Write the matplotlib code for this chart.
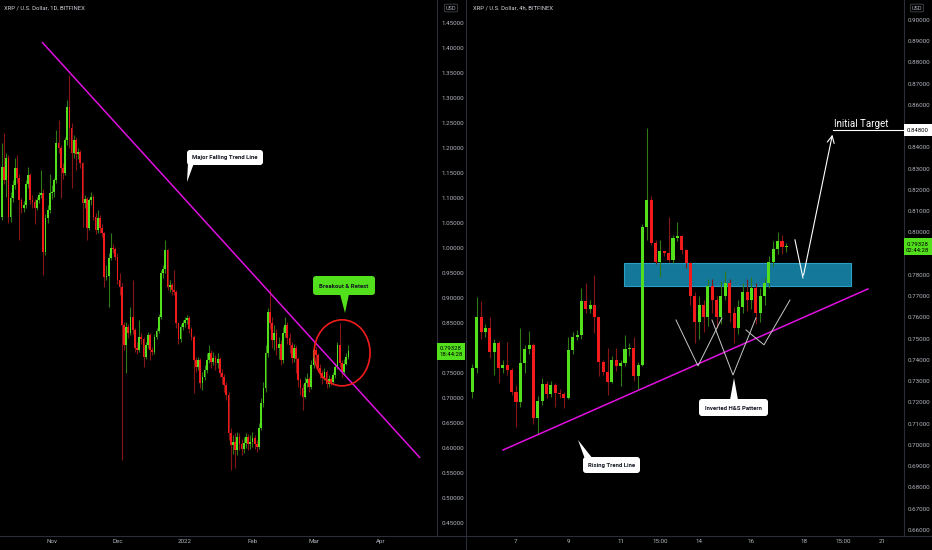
import numpy as np
import matplotlib
matplotlib.use("Agg")
from matplotlib import pyplot as plt
from matplotlib.patches import Ellipse, Rectangle, Polygon, FancyBboxPatch
from matplotlib.transforms import Affine2D

W, H = 932, 550

# ---- left chart: XRP / U.S. Dollar, 1D  (x = days from 2021-11-01)
day_first = -23
day_first_open = 1.062
day_close = [
    1.162, 1.135, 1.180, 1.062, 1.100, 1.125, 1.160, 1.140, 1.095, 1.080,
    1.086, 1.128, 1.146, 1.095, 1.092, 1.080, 1.095, 1.105, 1.110, 0.992,
    1.060, 1.075, 1.110, 1.112, 1.135, 1.209, 1.200, 1.160, 1.150, 1.215,
    1.282, 1.240, 1.190, 1.215, 1.188, 1.192, 1.170, 1.089, 1.098, 1.040,
    1.095, 1.102, 1.062, 1.035, 1.060, 1.040, 1.030, 0.942, 0.944, 0.980,
    1.000, 0.998, 0.982, 0.935, 0.922, 0.846, 0.806, 0.842, 0.829, 0.862,
    0.835, 0.800, 0.796, 0.822, 0.818, 0.782, 0.805, 0.826, 0.795, 0.792,
    0.822, 0.834, 0.862, 0.949, 0.958, 0.996, 0.922, 0.925, 0.915, 0.912,
    0.849, 0.818, 0.842, 0.850, 0.856, 0.860, 0.838, 0.822, 0.776, 0.762,
    0.776, 0.729, 0.742, 0.755, 0.775, 0.790, 0.772, 0.780, 0.770, 0.778,
    0.750, 0.742, 0.725, 0.705, 0.630, 0.605, 0.612, 0.595, 0.622, 0.608,
    0.598, 0.610, 0.622, 0.608, 0.612, 0.620, 0.608, 0.602, 0.640, 0.690,
    0.720, 0.790, 0.872, 0.850, 0.815, 0.830, 0.800, 0.808, 0.775, 0.830,
    0.845, 0.820, 0.805, 0.780, 0.800, 0.778, 0.735, 0.720, 0.702, 0.730,
    0.738, 0.722, 0.765, 0.795, 0.785, 0.760, 0.750, 0.740, 0.752, 0.728,
    0.738, 0.732, 0.745, 0.762, 0.805, 0.770, 0.752, 0.768, 0.782, 0.793,
]
day_high = [
    1.209, 1.229, 1.190, 1.185, 1.112, 1.135, 1.180, 1.185, 1.148, 1.100,
    1.094, 1.135, 1.162, 1.150, 1.105, 1.098, 1.102, 1.112, 1.155, 1.118,
    1.068, 1.085, 1.148, 1.125, 1.140, 1.235, 1.255, 1.205, 1.170, 1.222,
    1.295, 1.345, 1.250, 1.225, 1.222, 1.200, 1.196, 1.172, 1.106, 1.102,
    1.100, 1.112, 1.106, 1.070, 1.075, 1.066, 1.048, 1.032, 0.965, 0.990,
    1.029, 1.008, 1.002, 0.990, 0.950, 0.930, 0.852, 0.852, 0.848, 0.882,
    0.935, 0.840, 0.812, 0.855, 0.830, 0.822, 0.812, 0.832, 0.830, 0.802,
    0.828, 0.840, 0.868, 0.955, 0.965, 1.015, 0.998, 0.935, 0.930, 0.955,
    0.915, 0.852, 0.848, 0.856, 0.862, 0.866, 0.864, 0.842, 0.826, 0.782,
    0.782, 0.780, 0.752, 0.765, 0.790, 0.805, 0.795, 0.792, 0.785, 0.790,
    0.782, 0.758, 0.748, 0.732, 0.712, 0.640, 0.625, 0.630, 0.632, 0.630,
    0.618, 0.622, 0.630, 0.628, 0.625, 0.632, 0.625, 0.615, 0.650, 0.700,
    0.732, 0.805, 0.880, 0.918, 0.862, 0.845, 0.838, 0.822, 0.815, 0.842,
    0.862, 0.852, 0.830, 0.812, 0.808, 0.805, 0.782, 0.740, 0.728, 0.742,
    0.750, 0.742, 0.775, 0.810, 0.802, 0.790, 0.768, 0.756, 0.760, 0.755,
    0.745, 0.742, 0.752, 0.770, 0.812, 0.849, 0.775, 0.778, 0.790, 0.805,
]
day_low = [
    1.055, 1.128, 1.102, 1.050, 1.052, 1.092, 1.118, 1.130, 1.015, 1.070,
    1.072, 1.080, 1.120, 1.088, 1.080, 1.048, 1.075, 1.090, 1.100, 0.945,
    0.985, 1.050, 1.070, 1.098, 1.102, 1.130, 1.190, 1.100, 1.138, 1.145,
    1.205, 1.200, 1.120, 1.180, 1.155, 1.178, 1.160, 1.042, 1.080, 1.015,
    1.035, 1.085, 1.055, 1.028, 1.030, 1.030, 1.022, 0.922, 0.935, 0.882,
    0.975, 0.990, 0.975, 0.928, 0.905, 0.576, 0.795, 0.749, 0.820, 0.825,
    0.828, 0.792, 0.788, 0.792, 0.808, 0.762, 0.778, 0.800, 0.776, 0.785,
    0.788, 0.818, 0.830, 0.858, 0.940, 0.950, 0.915, 0.912, 0.905, 0.905,
    0.840, 0.808, 0.812, 0.835, 0.842, 0.848, 0.830, 0.815, 0.709, 0.752,
    0.755, 0.720, 0.715, 0.735, 0.750, 0.770, 0.760, 0.766, 0.755, 0.760,
    0.742, 0.728, 0.712, 0.695, 0.615, 0.556, 0.588, 0.560, 0.585, 0.596,
    0.585, 0.590, 0.600, 0.595, 0.598, 0.602, 0.598, 0.592, 0.598, 0.635,
    0.682, 0.712, 0.782, 0.838, 0.800, 0.795, 0.785, 0.778, 0.765, 0.770,
    0.822, 0.808, 0.790, 0.770, 0.772, 0.750, 0.722, 0.705, 0.675, 0.700,
    0.722, 0.712, 0.718, 0.760, 0.770, 0.752, 0.740, 0.728, 0.735, 0.720,
    0.722, 0.725, 0.728, 0.740, 0.758, 0.762, 0.742, 0.748, 0.765, 0.778,
]
day_ticks = [0, 30, 61, 92, 120, 151]
day_tick_labels = ["Nov", "Dec", "2022", "Feb", "Mar", "Apr"]
falling_line = [(-4.6, 1.411), (168.9, 0.580)]
retest_circle = (133.1, 0.790)

# ---- right chart: XRP / U.S. Dollar, 4h  (x = days from 2022-03-07)
bar_first = -1.667
bar_first_open = 0.7251
bar_close = [
    0.7361, 0.7604, 0.7533, 0.7549, 0.7435, 0.7478, 0.7361, 0.7377, 0.7353, 0.7251,
    0.7204, 0.7384, 0.7450, 0.7468, 0.7126, 0.7209, 0.7286, 0.7240, 0.7282, 0.7243,
    0.7238, 0.7220, 0.7447, 0.7510, 0.7518, 0.7675, 0.7640, 0.7659, 0.7604, 0.7392,
    0.7345, 0.7298, 0.7400, 0.7373, 0.7387, 0.7450, 0.7455, 0.7325, 0.7377, 0.8027,
    0.8153, 0.7949, 0.7863, 0.7913, 0.7905, 0.7871, 0.7973, 0.7984, 0.7918, 0.7855,
    0.7700, 0.7580, 0.7660, 0.7600, 0.7750, 0.7680, 0.7600, 0.7700, 0.7760, 0.7620,
    0.7550, 0.7650, 0.7720, 0.7680, 0.7740, 0.7620, 0.7700, 0.7760, 0.7860, 0.7920,
    0.7960, 0.7930, 0.7933,
]
bar_high = [
    0.7380, 0.7698, 0.7676, 0.7570, 0.7604, 0.7500, 0.7490, 0.7400, 0.7486, 0.7360,
    0.7280, 0.7549, 0.7470, 0.7538, 0.7480, 0.7230, 0.7314, 0.7300, 0.7300, 0.7290,
    0.7265, 0.7250, 0.7510, 0.7530, 0.7540, 0.7737, 0.7761, 0.7680, 0.7800, 0.7600,
    0.7400, 0.7455, 0.7420, 0.7455, 0.7400, 0.7518, 0.7480, 0.7510, 0.7390, 0.8040,
    0.8490, 0.8172, 0.7965, 0.7965, 0.7915, 0.8075, 0.7990, 0.8051, 0.7990, 0.7920,
    0.7860, 0.7720, 0.7700, 0.7680, 0.7780, 0.7780, 0.7700, 0.7770, 0.7820, 0.7780,
    0.7650, 0.7680, 0.7760, 0.7780, 0.7790, 0.7760, 0.7740, 0.7790, 0.7890, 0.7960,
    0.8000, 0.7990, 0.7950,
]
bar_low = [
    0.7220, 0.7340, 0.7500, 0.7510, 0.7410, 0.7329, 0.7290, 0.7340, 0.7330, 0.7235,
    0.7086, 0.7180, 0.7340, 0.7430, 0.7100, 0.7047, 0.7190, 0.7220, 0.7225, 0.7177,
    0.7220, 0.7173, 0.7215, 0.7430, 0.7495, 0.7500, 0.7620, 0.7620, 0.7525, 0.7322,
    0.7330, 0.7235, 0.7290, 0.7350, 0.7275, 0.7370, 0.7420, 0.7300, 0.7259, 0.7370,
    0.7965, 0.7940, 0.7850, 0.7792, 0.7890, 0.7860, 0.7855, 0.7960, 0.7900, 0.7835,
    0.7660, 0.7480, 0.7500, 0.7530, 0.7560, 0.7620, 0.7550, 0.7570, 0.7680, 0.7580,
    0.7480, 0.7520, 0.7620, 0.7630, 0.7640, 0.7570, 0.7580, 0.7660, 0.7740, 0.7840,
    0.7900, 0.7900, 0.7910,
]
bar_ticks = [0, 2, 4, 5.5, 7, 9, 11, 12.5, 14]
bar_tick_labels = ["7", "9", "11", "15:00", "14", "16", "18", "15:00", "21"]
rising_line = [(-0.497, 0.6976), (13.45, 0.7734)]
zone = (4.13, 12.80, 0.7748, 0.7856)
hs_legs = [
    [(6.114, 0.7588), (6.955, 0.7372), (7.872, 0.7598)],
    [(7.490, 0.7588), (8.292, 0.7329), (9.171, 0.7598)],
    [(8.789, 0.7541), (9.477, 0.7471), (10.470, 0.7682)],
]
target_path = [(10.661, 0.7965), (10.967, 0.7786), (12.113, 0.8473)]
target_price = 0.848
last_price = 0.79328

GREEN, RED = "#52e01c", "#f21b1b"
GREEN_WICK, RED_WICK = "#2f7a14", "#861616"
GRID = "#2a2e39"
LABEL = "#b2b5be"
MAGENTA = "#e010e0"

plt.rcParams["font.family"] = ["Roboto", "DejaVu Sans"]

fig = plt.figure(figsize=(W / 100, H / 100), dpi=100, facecolor="black")
PX = Affine2D().scale(1, -1).translate(0, H)  # pixel coords, origin top-left


def add_pane(x0, x1):
    ax = fig.add_axes([x0 / W, 1 - 535 / H, (x1 - x0) / W, 535 / H])
    ax.set_facecolor("black")
    for s in ax.spines.values():
        s.set_visible(False)
    ax.yaxis.tick_right()
    ax.tick_params(length=0, labelsize=4.5, labelcolor=LABEL)
    ax.tick_params(axis="x", pad=3.2)
    return ax


def candles(ax, first, step, first_open, close, high, low, width, min_h):
    c = np.array(close)
    o = np.concatenate([[first_open], c[:-1]])
    x = first + step * np.arange(len(c))
    up = c >= o
    ax.vlines(x, low, high, colors=np.where(up, GREEN_WICK, RED_WICK), lw=0.8, zorder=3)
    ax.bar(x, np.maximum(np.abs(c - o), min_h), width * step, bottom=np.minimum(o, c),
           color=np.where(up, GREEN, RED), linewidth=0, zorder=4)


def callout(text, box, tri, fc):
    x0, y0, x1, y1 = box
    fig.add_artist(Polygon(tri, closed=True, fc=fc, ec="none", transform=PX, zorder=5))
    fig.add_artist(FancyBboxPatch((x0, y0), x1 - x0, y1 - y0, boxstyle="round,pad=0,rounding_size=3",
                                  fc=fc, ec="none", transform=PX, zorder=5))
    fig.text((x0 + x1) / 2, (y0 + y1) / 2 + 0.5, text, transform=PX, ha="center", va="center",
             fontsize=4.3, fontweight="bold", color="#131722", zorder=6)


def price_box(ax, price, x0, x1, lines, fc, tc):
    yc = H - ax.transData.transform((ax.get_xlim()[0], price))[1]
    h = 17 if len(lines) == 2 else 12
    fig.add_artist(Rectangle((x0, yc - h / 2), x1 - x0, h, fc=fc, ec="none", transform=PX, zorder=5))
    fig.text((x0 + x1) / 2, yc + 0.5, "\n".join(lines), transform=PX, ha="center", va="center",
             fontsize=4.3, color=tc, linespacing=1.15, zorder=6)


def price_ticks(ax, lo, hi, step, hidden):
    vals = [v for v in np.arange(lo, hi + step / 2, step) if all(abs(v - h) > step / 4 for h in hidden)]
    ax.set_yticks(vals)
    ax.yaxis.set_major_formatter(matplotlib.ticker.FormatStrFormatter("%.5f"))


# ---- left pane
axL = add_pane(0, 436)
axL.set_xlim(-23.86, 176.2)
axL.set_ylim(0.426, 1.495)
candles(axL, day_first, 1, day_first_open, day_close, day_high, day_low, 0.8, 0.002)
price_ticks(axL, 0.45, 1.45, 0.05, [0.80])  # 0.80 sits under the last-price label
axL.tick_params(axis="y", pad=4.0)
axL.set_xticks(day_ticks)
axL.set_xticklabels(day_tick_labels)
axL.plot(*zip(*falling_line), color=MAGENTA, lw=1.1, zorder=5, solid_capstyle="butt")
axL.add_patch(Ellipse(retest_circle, 25.7, 0.132, fc="none", ec="#f01c1c", lw=1.2, zorder=5))

# ---- right pane
axR = add_pane(469, 903)
axR.set_xlim(-1.796, 14.79)
axR.set_ylim(0.6576, 0.9094)
zx0, zx1, zy0, zy1 = zone
axR.add_patch(Rectangle((zx0, zy0), zx1 - zx0, zy1 - zy0, fc="#14789a", ec="#2aa0c4", lw=0.8, zorder=2))
candles(axR, bar_first, 1 / 6, bar_first_open, bar_close, bar_high, bar_low, 0.7, 0.0004)
price_ticks(axR, 0.66, 0.90, 0.01, [0.79])  # 0.79 sits under the last-price label
axR.tick_params(axis="y", pad=3.0)
axR.set_xticks(bar_ticks)
axR.set_xticklabels(bar_tick_labels)
axR.plot(*zip(*rising_line), color=MAGENTA, lw=1.1, zorder=5)
for leg in hs_legs:
    axR.plot(*zip(*leg), color="#c8c8c8", lw=0.7, zorder=5)
axR.plot(*zip(*target_path[:2]), color="white", lw=0.8, zorder=5)
axR.annotate("", xy=target_path[2], xytext=target_path[1],
             arrowprops=dict(arrowstyle="->,head_length=0.5,head_width=0.25", color="white", lw=0.8), zorder=5)
axR.plot([target_path[2][0], 14.79], [target_price, target_price], color="white", lw=0.8, zorder=5,
         clip_on=False)
axR.text(13.18, target_price + 0.0008, "Initial Target", color="white", fontsize=7, ha="center",
         va="bottom", zorder=6)

# ---- frame lines
for x in (436.5, 466, 903.5):
    fig.add_artist(plt.Line2D([x, x], [0, 535 if x != 466 else H], color=GRID, lw=0.8, transform=PX))
fig.add_artist(plt.Line2D([0, W], [535.5, 535.5], color=GRID, lw=0.8, transform=PX))

# ---- titles and axis decorations
fig.text(4, 8, "XRP / U.S. Dollar, 1D, BITFINEX", transform=PX, fontsize=4.2, color="#d1d4dc", va="center")
fig.text(473, 8, "XRP / U.S. Dollar, 4h, BITFINEX", transform=PX, fontsize=4.2, color="#d1d4dc", va="center")
for xc in (451, 917):
    fig.text(xc, 8, "USD", transform=PX, fontsize=4, color=LABEL, ha="center", va="center",
             bbox=dict(boxstyle="round,pad=0.25,rounding_size=0.3", fc="black", ec="#50535e", lw=0.5))

price_box(axL, last_price, 437, 465, ["0.79328", "18:44:28"], GREEN, "black")
price_box(axR, last_price, 903.5, 932, ["0.79328", "02:44:28"], GREEN, "black")
price_box(axR, target_price, 903.5, 932, ["0.84800"], "white", "black")

callout("Major Falling Trend Line", (187, 150, 263, 165), [(188, 163), (194, 163), (187, 182)], "white")
callout("Breakout & Retest", (313, 276, 375, 295), [(340, 294), (349, 294), (345, 313)], GREEN)
callout("Rising Trend Line", (583, 457, 640, 473), [(585, 459), (593, 459), (578, 440)], "white")
callout("Inverted H&S Pattern", (699, 399, 768, 416), [(730, 400), (738, 400), (734, 378)], "white")

fig.savefig("out.png", dpi=100, facecolor="black")
